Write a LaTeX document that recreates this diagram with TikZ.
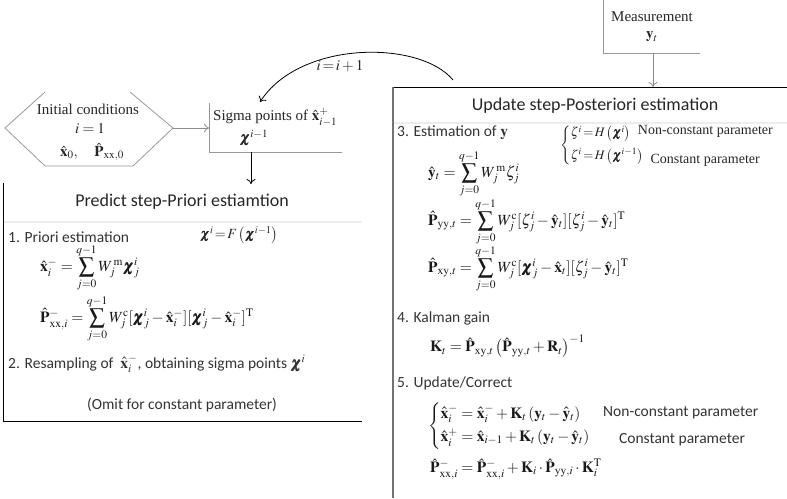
\documentclass[tikz,border=0pt]{standalone}
\usepackage{amsmath}
\usepackage{mathptmx}
\usepackage{bm}
\usepackage{fontspec}
\setmainfont{Liberation Serif}
\newfontfamily\calfont{Carlito}
\usetikzlibrary{arrows.meta}
\newcommand\xh{\hat{\mathbf{x}}}
\newcommand\Ph{\hat{\mathbf{P}}}
\newcommand\yh{\hat{\mathbf{y}}}
\newcommand\bchi{\bm{\chi}}
\newcommand\qsum{\displaystyle\sum_{j=0}^{q-1}}
\tikzset{
 serif/.style={font=\fontsize{15}{17}\selectfont, inner sep=0pt, text=black!85},
 sserif/.style={font=\fontsize{14}{16}\selectfont, inner sep=0pt, text=black!85},
 cserif/.style={font=\fontsize{13}{15}\selectfont, inner sep=0pt, text=black!85},
 sans/.style={font=\calfont\fontsize{15.5}{18}\selectfont, inner sep=0pt, text=black!80},
 ttl/.style={font=\calfont\fontsize{18}{20}\selectfont, inner sep=0pt, text=black!85},
 eq/.style={font=\fontsize{15.5}{18}\selectfont, inner sep=0pt, anchor=west, text=black!90},
 frame/.style={line width=1pt, black},
 gframe/.style={line width=1.6pt, black!55},
 lframe/.style={line width=0.8pt, black!40},
 sepline/.style={line width=2pt, black!7},
 arr/.style={-{To[length=5pt,width=9pt]}, line width=0.8pt},
}
\begin{document}
\begin{tikzpicture}[x=1pt,y=-1pt]
\useasboundingbox (0,0) rectangle (787,498);

% ---------- initial conditions hexagon
\draw[lframe] (45,92) -- (5,128) -- (45,166) -- (133,166) -- (173,128) -- (130,92);
\coordinate (hexR) at (173,128);
\node[serif] (ic) at (88,109) {Initial conditions};
\node[serif] (ione) at (90,129) {$i=1$};
\node[serif] (x0) at (92,152) {$\xh_0,\quad \Ph_{\mathrm{xx},0}$};

% ---------- sigma points box
\draw[lframe] (209,103) -- (209,152) -- (342,152);
\coordinate (sigL) at (209,128);
\coordinate (sigB) at (251,152);
\node[serif, anchor=west] (sig) at (213,117) {Sigma points of $\xh^{+}_{i-1}$};
\node[serif] (chi) at (254,138) {$\bchi^{i-1}$};
\draw[arr, black!45] (hexR) -- (sigL);

% ---------- predict box
\coordinate (predT) at (251,184);
\draw[arr] (sigB) -- (predT);
\draw[frame] (3,183) -- (3,421) -- (362,421);
\draw[sepline] (4,222) -- (362,222);
\node[ttl] (ptitle) at (182,202) {Predict step-Priori estiamtion};
\node[sans, anchor=west] (p1) at (8,237) {1. Priori estimation};
\node[sserif, anchor=west] (pf) at (200,235) {$\bchi^{i}\!=\!F\left(\bchi^{i-1}\right)$};
\node[eq] (px) at (40,268) {$\xh^{-}_{i} = \qsum W_j^{\,\mathrm{m}}\bchi^{i}_{j}$};
\node[eq] (pp) at (40,319) {$\Ph^{-}_{\mathrm{xx},i} = \qsum W_j^{\mathrm{c}}[\bchi^{i}_{j}-\xh^{-}_{i}][\bchi^{i}_{j}-\xh^{-}_{i}]^{\mathrm{T}}$};
\node[sans, anchor=west] (p2) at (8,364) {2. Resampling of \ $\xh^{-}_{i}$, obtaining sigma points $\bchi^{i}$};
\node[sans] (omit) at (182,405) {(Omit for constant parameter)};

% ---------- measurement
\draw[lframe] (603,0) -- (603,53) -- (700,53);
\coordinate (measB) at (653,53);
\node[serif] (meas) at (652,17) {Measurement};
\node[serif] (yt) at (652,37) {$\mathbf{y}_t$};
\coordinate (updT) at (653,87);
\draw[arr, black!45] (measB) -- (updT);

% ---------- update box
\draw[frame] (393,87) -- (787,87);
\draw[gframe] (393,87) -- (393,498);
\draw[sepline] (394,123) -- (787,123);
\node[ttl] (utitle) at (595,106) {Update step-Posteriori estimation};
\node[sans, anchor=west] (u3) at (397,133) {3. Estimation of $\mathbf{y}$};
\node[cserif, anchor=west] (ucase) at (560,145) {$\left\{\begin{array}{@{}l@{}} \zeta^{i}\!=\!H\left(\bchi^{i}\right)\\[7pt] \zeta^{i}\!=\!H\left(\bchi^{i-1}\right)\end{array}\right.$};
\node[sserif, anchor=east] (nc1) at (773,131) {Non-constant parameter};
\node[sserif, anchor=east] (c1) at (760,160) {Constant parameter};
\node[eq] (uy) at (428,174) {$\yh_{t} = \qsum W_j^{\,\mathrm{m}}\zeta^{i}_{j}$};
\node[eq] (upyy) at (428,222) {$\Ph_{\mathrm{yy},t} = \qsum W_j^{\mathrm{c}}[\zeta^{i}_{j}-\yh_{t}][\zeta^{i}_{j}-\yh_{t}]^{\mathrm{T}}$};
\node[eq] (upxy) at (428,269) {$\Ph_{\mathrm{xy},t} = \qsum W_j^{\mathrm{c}}[\bchi^{i}_{j}-\xh_{t}][\zeta^{i}_{j}-\yh_{t}]^{\mathrm{T}}$};
\node[sans, anchor=west] (u4) at (397,318) {4. Kalman gain};
\node[eq] (uk) at (430,346) {$\mathbf{K}_t=\Ph_{\mathrm{xy},t}\left(\Ph_{\mathrm{yy},t}+\mathbf{R}_t\right)^{-1}$};
\node[sans, anchor=west] (u5) at (397,383) {5. Update/Correct};
\node[eq] (ucase2) at (428,426) {$\left\{\begin{array}{@{}l@{}} \xh^{-}_{i}=\xh^{-}_{i}+\mathbf{K}_t\left(\mathbf{y}_t-\yh_t\right)\\[5pt] \xh^{+}_{i}=\xh_{i-1}+\mathbf{K}_t\left(\mathbf{y}_t-\yh_t\right)\end{array}\right.$};
\node[sans, anchor=west] (nc2) at (603,413) {Non-constant parameter};
\node[sans] (c2) at (682,440) {Constant parameter};
\node[eq] (upxx) at (430,469) {$\Ph^{-}_{\mathrm{xx},i}=\Ph^{-}_{\mathrm{xx},i}+\mathbf{K}_i\cdot\Ph_{\mathrm{yy},i}\cdot\mathbf{K}_i^{\mathrm{T}}$};

% ---------- loop arrow
\coordinate (loopS) at (453,80);
\coordinate (sigT) at (260,102);
\draw[arr] (loopS) .. controls (420,40) and (300,40) .. (sigT);
\node[serif] (inc) at (340,66) {$i\!=\!i+1$};
\end{tikzpicture}
\end{document}
